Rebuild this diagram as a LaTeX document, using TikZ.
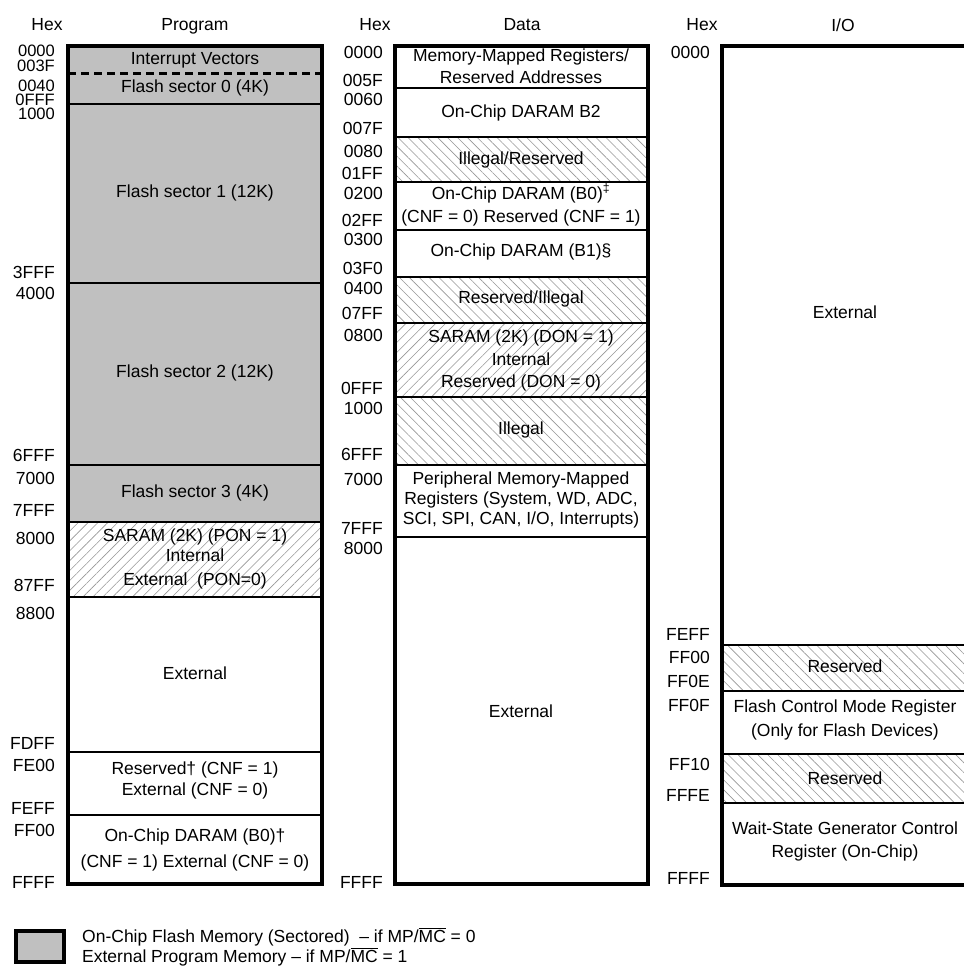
\documentclass[tikz,border=0pt]{standalone}
\usepackage{fontspec}
\setmainfont{Liberation Sans}
\usetikzlibrary{patterns.meta}
\definecolor{flashgray}{RGB}{192,192,192}
\definecolor{hatchgray}{RGB}{150,150,150}

\begin{document}
\begin{tikzpicture}[x=1pt,y=-1pt,
  font=\fontsize{17.5}{20}\selectfont,
  hexlbl/.style={anchor=east,inner sep=0pt},
  tighthex/.style={hexlbl,font=\fontsize{16.5}{18}\selectfont},
  txt/.style={align=center,inner sep=0pt},
  border/.style={line width=4pt},
  divider/.style={line width=2pt},
  hatchne/.style={pattern={Lines[angle=45,distance=7pt,line width=0.6pt]},pattern color=hatchgray},
  hatchnw/.style={pattern={Lines[angle=-45,distance=7pt,line width=0.6pt]},pattern color=hatchgray}]

\useasboundingbox (0,0) rectangle (964,967);
\clip (0,0) rectangle (964,967);

% column titles
\node (hexP) at (47,25) {Hex};
\node (progT) at (195,26) {Program};
\node (hexD) at (375,25) {Hex};
\node (dataT) at (522,25) {Data};
\node (hexI) at (702,25) {Hex};
\node (ioT) at (843,25) {I/O};

% program space
\fill[flashgray] (68,46) rectangle (322,522);
\fill[hatchne] (68,522) rectangle (322,597);
\foreach \y in {104,283,465,522,597,752,815}
  \draw[divider] (68,\y) -- (322,\y);
\draw[line width=3pt,dash pattern=on 8pt off 5pt] (68,73) -- (322,73);
\draw[border] (68,46) rectangle (322,884);

\node[txt] (pIvec) at (195,60) {Interrupt Vectors};
\node[txt] (pSec0) at (195,88) {Flash sector 0 (4K)};
\node[txt] (pSec1) at (195,193) {Flash sector 1 (12K)};
\node[txt] (pSec2) at (195,373) {Flash sector 2 (12K)};
\node[txt] (pSec3) at (195,493) {Flash sector 3 (4K)};
\node[txt] (pSaram) at (195,559) {SARAM (2K) (PON = 1)\\Internal\\[4pt]External\ \ (PON=0)};
\node[txt] (pExt) at (195,673) {External};
\node[txt] (pRes) at (195,780) {Reserved† (CNF = 1)\\[1pt]External (CNF = 0)};
\node[txt] (pB0) at (195,850) {On-Chip DARAM (B0)†\\[6pt](CNF = 1) External (CNF = 0)};

\foreach \y/\t in {51/0000,65.5/003F,86/0040,99.5/0FFF,113.5/1000}
  \node[tighthex] (ph\t) at (55,\y) {\t};
\foreach \y/\t in {272/3FFF,293/4000,455/6FFF,478/7000,510/7FFF,538/8000,
    585/87FF,613/8800,743/FDFF,765/FE00,808/FEFF,830/FF00,882/FFFF}
  \node[hexlbl] (ph\t) at (55,\y) {\t};

% data space
\fill[hatchnw] (395,137) rectangle (648,182);
\fill[hatchnw] (395,277) rectangle (648,323);
\fill[hatchne] (395,323) rectangle (648,397);
\fill[hatchnw] (395,397) rectangle (648,465);
\foreach \y in {88,137,182,230,277,323,397,465,537}
  \draw[divider] (395,\y) -- (648,\y);
\draw[border] (395,46) rectangle (648,884);

\node[txt] (dMmr) at (521,66) {Memory-Mapped Registers/\\[2pt]Reserved Addresses};
\node[txt] (dB2) at (521,113) {On-Chip DARAM B2};
\node[txt] (dIllRes) at (521,160) {Illegal/Reserved};
\node[txt] (dB0) at (521,205) {On-Chip DARAM (B0)\textsuperscript{‡}\\[3pt](CNF = 0) Reserved (CNF = 1)};
\node[txt] (dB1) at (521,252) {On-Chip DARAM (B1)§};
\node[txt] (dResIll) at (521,299) {Reserved/Illegal};
\node[txt] (dSaram) at (521,360) {SARAM (2K) (DON = 1)\\[3pt]Internal\\[2pt]Reserved (DON = 0)};
\node[txt] (dIll) at (521,430) {Illegal};
\node[txt] (dPeri) at (521,500) {Peripheral Memory-Mapped\\Registers (System, WD, ADC,\\SCI, SPI, CAN, I/O, Interrupts)};
\node[txt] (dExt) at (521,711) {External};

\foreach \y/\t in {52/0000,80/005F,99/0060,128/007F,151/0080,173/01FF,193/0200,
    220/02FF,239/0300,268/03F0,288/0400,313/07FF,335/0800,388/0FFF,408/1000,
    454/6FFF,479/7000,528/7FFF,548/8000,882/FFFF}
  \node[hexlbl] (dh\t) at (383,\y) {\t};

% I/O space
\fill[hatchnw] (722,645) rectangle (968,691);
\fill[hatchnw] (722,754) rectangle (968,803);
\foreach \y in {645,691,754,803}
  \draw[divider] (722,\y) -- (968,\y);
\draw[border] (722,46) rectangle (968,885);

\node[txt] (iExt) at (845,312) {External};
\node[txt] (iRes1) at (845,666) {Reserved};
\node[txt] (iFcmr) at (845,720) {Flash Control Mode Register\\[4pt](Only for Flash Devices)};
\node[txt] (iRes2) at (845,778) {Reserved};
\node[txt] (iWsg) at (845,841) {Wait-State Generator Control\\[3pt]Register (On-Chip)};

\foreach \y/\t in {52/0000,634/FEFF,657/FF00,681/FF0E,705/FF0F,764/FF10,795/FFFE,878/FFFF}
  \node[hexlbl] (ih\t) at (710,\y) {\t};

% legend
\draw[border,fill=flashgray] (16,931) rectangle (64,962);
\node[anchor=west,align=left,inner sep=0pt] (leg) at (82,947)
  {On-Chip Flash Memory (Sectored)\ \ – if MP/$\overline{\hbox{MC}}$ = 0\\External Program Memory – if MP/$\overline{\hbox{MC}}$ = 1};

\end{tikzpicture}
\end{document}
